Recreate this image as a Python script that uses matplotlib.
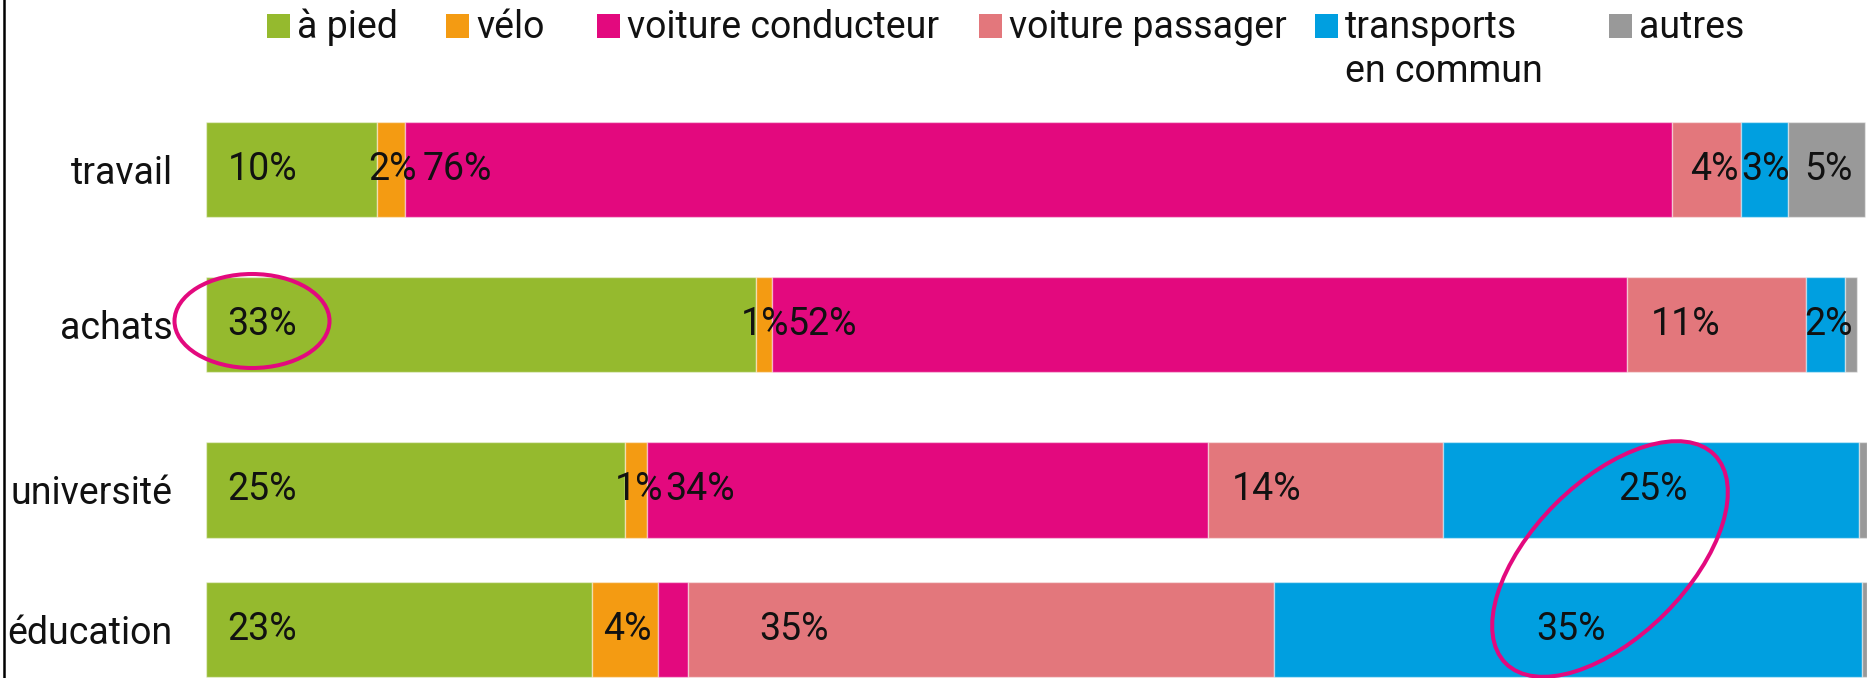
import matplotlib
matplotlib.use('Agg')
import matplotlib.pyplot as plt
from matplotlib.patches import Ellipse, Rectangle
from matplotlib.lines import Line2D

plt.rcParams['font.family'] = ['Roboto', 'DejaVu Sans']

# Données : part modale (%) par motif de déplacement
categories = ['travail', 'achats', 'université', 'éducation']
modes = ['à pied', 'vélo', 'voiture conducteur', 'voiture passager',
         'transports\nen commun', 'autres']
a_pied = [10.3, 33.2, 25.3, 23.3]
velo = [1.7, 1.0, 1.3, 4.0]
voiture_conducteur = [76.5, 51.6, 33.9, 1.8]
voiture_passager = [4.2, 10.8, 14.2, 35.4]
transports_commun = [2.8, 2.4, 25.1, 35.5]
autres = [4.7, 0.7, 0.5, 0.3]

# Etiquettes affichées dans les barres (une ligne par motif)
etiquettes = [
    ['10%', '2%', '76%', '4%', '3%', '5%'],
    ['33%', '1%', '52%', '11%', '2%', ''],
    ['25%', '1%', '34%', '14%', '25%', ''],
    ['23%', '4%', '', '35%', '35%', ''],
]

series = [a_pied, velo, voiture_conducteur, voiture_passager, transports_commun, autres]
couleurs = ['#95BA2E', '#F49B12', '#E3097E', '#E3777C', '#009FE0', '#999999']
magenta = '#E3097E'
texte = '#111111'

# Mise en page (pixels de l'image finale)
W, H = 1867, 678
positions = [0, 1, 2.068, 2.965]   # positions verticales des barres (écart irrégulier)
hauteur = 0.613
taille = 27
# décalage des étiquettes depuis le début de chaque segment (en %)
decalages = [
    [1.3, -0.5, 1.1, 1.1, 0.0, 1.0],
    [1.3, -0.9, 0.9, 1.45, -0.1, 0],
    [1.3, -0.6, 1.15, 1.45, 10.6, 0],
    [1.3, 0.65, 0, 4.3, 15.8, 0],
]

fig = plt.figure(figsize=(W / 100, H / 100), dpi=100)
ax = fig.add_axes([206 / W, 0, 1 - 206 / W, 1])

gauche = [0.0] * len(categories)
for j, serie in enumerate(series):
    ax.barh(positions, serie, left=gauche, height=hauteur, color=couleurs[j],
            edgecolor=(1, 1, 1, 0.45), linewidth=1)
    for i in range(len(categories)):
        if etiquettes[i][j]:
            ax.text(gauche[i] + decalages[i][j], positions[i], etiquettes[i][j],
                    ha='left', va='center', fontsize=taille, color=texte)
    gauche = [g + v for g, v in zip(gauche, serie)]

ax.set_xlim(0, 100.3)
ax.set_ylim(3.281, -1.0935)
ax.set_yticks(positions, categories, fontsize=taille, color=texte)
ax.tick_params(axis='y', length=0, pad=24)
ax.set_xticks([])
for s in ax.spines.values():
    s.set_visible(False)

# Légende dessinée à la main, sur une ligne en haut
leg_x = [267, 446, 597, 979, 1315, 1609]
for x, nom, c in zip(leg_x, modes, couleurs):
    fig.add_artist(Rectangle((x / W, 1 - 38 / H), 23 / W, 24 / H,
                             transform=fig.transFigure, color=c, lw=0))
    for k, ligne in enumerate(nom.split('\n')):
        fig.text((x + 30) / W, 1 - (38 + 44 * k) / H, ligne, ha='left', va='baseline',
                 fontsize=taille, color=texte)

# Trait vertical à gauche
fig.add_artist(Line2D([4 / W, 4 / W], [0, 1], color='black', lw=1.8))

# Ellipses de mise en évidence
ov = fig.add_axes([0, 0, 1, 1])
ov.set_xlim(0, W)
ov.set_ylim(H, 0)
ov.axis('off')
ov.add_patch(Ellipse((252, 321), 155, 94, fill=False, ec=magenta, lw=2.9))
ov.add_patch(Ellipse((1610, 559), 295, 155, angle=-45, fill=False, ec=magenta, lw=2.9))

fig.savefig('out.png', dpi=100)
